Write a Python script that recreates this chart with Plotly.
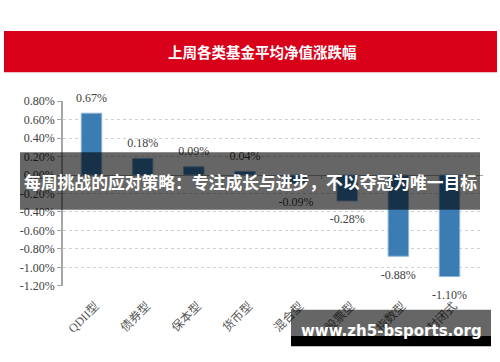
import plotly.graph_objects as go

# ---- data ----
categories = ["QDII型", "债券型", "保本型", "货币型", "混合型", "股票型", "指数型", "封闭式"]
values = [0.67, 0.18, 0.09, 0.04, -0.09, -0.28, -0.88, -1.10]
y_ticks = [0.8, 0.6, 0.4, 0.2, 0.0, -0.2, -0.4, -0.6, -0.8, -1.0, -1.2]
y_tick_labels = ["0.80%", "0.60%", "0.40%", "0.20%", "0.00%", "-0.20%", "-0.40%",
                 "-0.60%", "-0.80%", "-1.00%", "-1.20%"]
title_text = "上周各类基金平均净值涨跌幅"
overlay_text = "每周挑战的应对策略：专注成长与进步，不以夺冠为唯一目标"
watermark_text = "www.zh5-bsports.org"

W, H = 500, 362
def px(x):
    return x / W
def py(y):
    return 1 - y / H

value_labels = [("%.2f%%" % v) for v in values]
label_pos = ["top center" if v >= 0 else "bottom center" for v in values]
label_pad = [12 if v >= 0 else 20 for v in values]

serif = "Liberation Serif, Noto Sans CJK SC, serif"

fig = go.Figure()
fig.add_trace(go.Bar(
    x=categories, y=values,
    marker=dict(color="#3B7DB3", line=dict(color="#8DB4D8", width=1)),
))
fig.add_trace(go.Scatter(
    x=categories, y=values, mode="markers+text",
    marker=dict(size=label_pad, opacity=0),
    text=value_labels, textposition=label_pos, cliponaxis=False,
    textfont=dict(family=serif, size=12, color="#404040"),
    hoverinfo="skip",
))

shapes = []
# small tick marks on the zero line between categories
for i in range(len(categories) + 1):
    shapes.append(dict(type="line", xref="x", yref="y", x0=i - 0.5, x1=i - 0.5,
                       ysizemode="pixel", yanchor=0, y0=0, y1=-4,
                       line=dict(color="#999999", width=1), layer="below"))
# red title banner
shapes.append(dict(type="rect", xref="paper", yref="paper",
                   x0=px(4), x1=px(497), y0=py(68), y1=py(25),
                   fillcolor="#D9001A", line=dict(width=0), layer="above"))
# dark overlay band
shapes.append(dict(type="rect", xref="paper", yref="paper",
                   x0=px(20), x1=px(480), y0=py(211), y1=py(151),
                   fillcolor="rgba(0,0,0,0.6)", line=dict(width=0), layer="above"))
# watermark box
shapes.append(dict(type="rect", xref="paper", yref="paper",
                   x0=px(291), x1=px(491), y0=py(342), y1=py(315),
                   fillcolor="rgba(0,0,0,0.6)", line=dict(width=0), layer="above"))
shapes.append(dict(type="rect", xref="paper", yref="paper",
                   x0=px(291), x1=px(491), y0=py(353), y1=py(342),
                   fillcolor="#000000", line=dict(width=0), layer="above"))

annotations = [
    dict(text="<b>" + title_text + "</b>", xref="paper", yref="paper", x=px(262), y=py(46.5),
         showarrow=False, xanchor="center", yanchor="middle",
         font=dict(family="Noto Sans CJK SC", size=14.5, color="white")),
    dict(text="<b>" + overlay_text + "</b>", xref="paper", yref="paper", x=px(250), y=py(182),
         showarrow=False, xanchor="center", yanchor="middle",
         font=dict(family="Noto Sans CJK SC", size=16.8, color="white")),
    dict(text="<b>" + watermark_text + "</b>", xref="paper", yref="paper", x=px(391), y=py(337),
         showarrow=False, xanchor="center", yanchor="middle",
         font=dict(family="DejaVu Sans", size=15, color="white")),
]

fig.update_layout(
    width=W, height=H,
    margin=dict(l=0, r=0, t=0, b=0),
    paper_bgcolor="white", plot_bgcolor="white",
    showlegend=False,
    bargap=0.6,
    shapes=shapes,
    annotations=annotations,
    xaxis=dict(domain=[px(63), px(483)], showgrid=False, showline=False,
               tickangle=-45, ticks="", ticklabelstandoff=10, ticklabelshift=4,
               tickfont=dict(family=serif, size=12, color="#595959")),
    yaxis=dict(domain=[py(290), py(98)], range=[-1.2, 0.8],
               tickvals=y_ticks, ticktext=y_tick_labels,
               showgrid=True, gridcolor="#D0D0D0", griddash="dot", gridwidth=1,
               zeroline=True, zerolinecolor="#A6A6A6", zerolinewidth=1,
               showline=True, linecolor="#A6A6A6", linewidth=1.5,
               ticks="outside", ticklen=4, tickcolor="#A6A6A6",
               tickfont=dict(family=serif, size=12, color="#404040")),
)

fig.write_html("out.html")
